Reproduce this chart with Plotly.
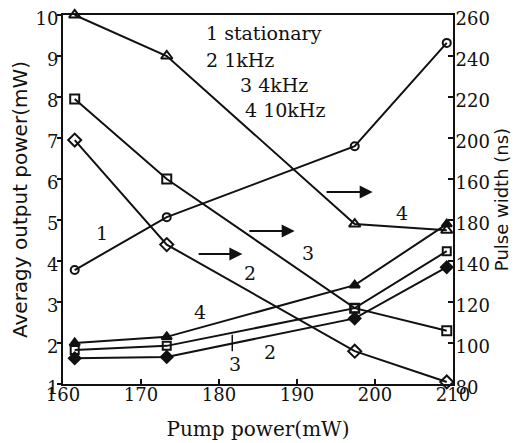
import plotly.graph_objects as go

# ---- data ----
pump_power = [161.5, 173.3, 197.4, 209.2]          # mW

# average output power (left axis, mW)
power_stationary = [3.78, 5.07, 6.80, 9.32]
power_10kHz = [2.00, 2.15, 3.41, 4.90]
power_4kHz = [1.83, 1.93, 2.85, 4.24]
power_1kHz = [1.63, 1.66, 2.60, 3.85]

# pulse width (right axis, ns)
width_10kHz = [260, 240, 158, 155]
width_4kHz = [219, 180, 117, 106]
width_1kHz = [199, 148, 96, 81]

x_ticks = [160, 170, 180, 190, 200, 210]
left_ticks = [1, 2, 3, 4, 5, 6, 7, 8, 9, 10]
right_ticks = [80, 100, 120, 140, 160, 180, 200, 220, 240, 260]
# the reference prints 160 and 180 in swapped places
right_tick_text = ["80", "100", "120", "140", "180", "160", "200", "220", "240", "260"]

INK = "#111111"
SERIF = "DejaVu Serif"
SANS = "DejaVu Sans"

fig = go.Figure()

def add(y, symbol, size, axis="y", fill=False):
    fig.add_trace(go.Scatter(
        x=pump_power, y=y, yaxis=axis, mode="lines+markers",
        line=dict(color=INK, width=2),
        marker=dict(symbol=symbol if fill else symbol + "-open", size=size,
                    color=INK, line=dict(color=INK, width=2)),
        showlegend=False, cliponaxis=False))

add(power_stationary, "circle", 8)
add(power_10kHz, "triangle-up", 9, fill=True)
add(power_4kHz, "square", 8)
add(power_1kHz, "diamond", 9, fill=True)
add(width_10kHz, "triangle-up", 10, axis="y2")
add(width_4kHz, "square", 9, axis="y2")
add(width_1kHz, "diamond", 10, axis="y2")

ann = []
# legend text
for txt, xp, yp in [("1 stationary", 204, 33), ("2 1kHz", 204, 60),
                    ("3 4kHz", 238, 85), ("4 10kHz", 243, 110)]:
    ann.append(dict(text=txt, xref="paper", yref="paper",
                    x=(xp - 63) / 390, y=(384 - yp) / 369,
                    xanchor="left", yanchor="middle", showarrow=False,
                    font=dict(family=SERIF, size=19, color=INK)))
# curve labels (data coords)
for txt, xd, yd in [("1", 165.0, 4.68), ("2", 184.0, 3.71), ("3", 191.4, 4.2),
                    ("4", 203.5, 5.17), ("4", 177.6, 2.76), ("3", 182.1, 1.48),
                    ("2", 186.5, 1.78)]:
    ann.append(dict(text=txt, x=xd, y=yd, xref="x", yref="y", showarrow=False,
                    font=dict(family=SERIF, size=19, color=INK)))
# arrows pointing to the right axis
for x0, x1, yv in [(193.6, 199.7, 5.68), (183.7, 189.7, 4.73), (177.2, 183.0, 4.17)]:
    ann.append(dict(x=x1, y=yv, ax=x0, ay=yv, xref="x", yref="y",
                    axref="x", ayref="y", text="", showarrow=True,
                    arrowhead=2, arrowsize=1.3, arrowwidth=2, arrowcolor=INK))

fig.add_shape(type="line", xref="x", yref="y", x0=181.7, x1=181.7, y0=2.2, y1=1.8,
              line=dict(color=INK, width=1.5))

# the page body adds an 8px offset, so the figure is 8px smaller
fig.update_layout(
    width=518, height=435,
    margin=dict(l=55, r=73, t=7, b=59, autoexpand=False),
    paper_bgcolor="white", plot_bgcolor="white",
    annotations=ann,
    xaxis=dict(range=[160, 210], tickvals=x_ticks, ticks="inside", ticklen=5,
               tickwidth=1.5, tickcolor=INK, showline=True, linecolor=INK,
               linewidth=2, mirror=True, showgrid=False, zeroline=False,
               automargin=False, ticklabelstandoff=-7,
               tickfont=dict(family=SERIF, size=18, color=INK),
               title=dict(text="Pump power(mW)", standoff=18,
                          font=dict(family=SERIF, size=20, color=INK))),
    yaxis=dict(range=[1, 10], tickvals=left_ticks, ticks="outside", ticklen=4,
               tickwidth=1.5, tickcolor=INK, showline=True, linecolor=INK,
               linewidth=2, showgrid=False, zeroline=False,
               automargin=False, ticklabelshift=4, ticklabelstandoff=-5,
               tickfont=dict(family=SERIF, size=18, color=INK),
               title=dict(text="Averagy output power(mW)", standoff=6,
                          font=dict(family=SANS, size=20, color=INK))),
    yaxis2=dict(range=[80, 260], overlaying="y", side="right",
                tickvals=right_ticks, ticktext=right_tick_text,
                ticks="inside", ticklen=5, tickwidth=1.5, tickcolor=INK,
                showline=True, linecolor=INK, linewidth=2, showgrid=False,
                zeroline=False, automargin=False, ticklabelshift=4,
                ticklabelstandoff=-3,
                tickfont=dict(family=SERIF, size=18, color=INK),
                title=dict(text="Pulse width (ns)", standoff=6,
                           font=dict(family=SANS, size=18, color=INK))),
)

fig.write_html("out.html")
